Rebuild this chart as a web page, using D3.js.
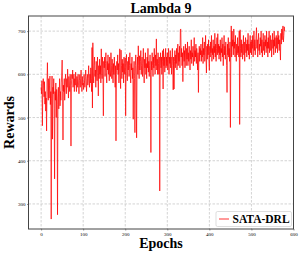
<!DOCTYPE html>
<html><head><meta charset="utf-8">
<script src="https://cdn.jsdelivr.net/npm/d3@7"></script>
<style>body{margin:0;background:#fff}svg{display:block}</style>
</head><body><svg id="c" width="300" height="255"></svg>
<script>
const title = "Lambda 9";
const xLabel = "Epochs";
const yLabel = "Rewards";
const seriesName = "SATA-DRL";
const xTicks = [0,100,200,300,400,500,600];
const yTicks = [300,400,500,600,700];
const rewards = [
570,555,585,481,560,590,575,548,583,531,560,515,545,469,580,627,560,540,590,545,
575,596,530,560,265,545,596,450,570,555,590,520,358,560,540,580,500,565,530,275,
545,570,520,555,590,527,560,540,580,600,633,560,448,575,560,590,540,570,600,580,
555,590,570,612,580,545,595,575,560,600,585,434,575,600,590,610,570,585,600,560,
590,575,605,580,560,595,570,590,600,575,555,585,600,570,590,610,580,560,595,575,
580,565,600,585,570,595,610,580,560,590,600,575,590,620,585,570,600,580,615,590,
560,662,522,673,600,580,620,640,595,610,570,630,600,585,640,605,550,620,590,635,
600,620,580,659,610,590,640,600,504,630,615,640,595,625,650,605,580,630,610,645,
600,625,585,640,610,595,650,620,590,635,605,580,625,600,640,610,570,620,446,600,
630,610,645,600,625,580,615,659,600,567,656,620,590,635,605,625,580,640,610,600,
638,504,620,646,600,585,630,610,640,595,620,650,600,580,625,610,640,590,615,496,
600,630,590,465,620,645,600,453,610,640,600,666,620,590,643,610,630,655,600,620,
640,595,625,660,610,580,635,615,650,600,625,590,640,615,660,605,630,595,620,645,
600,419,630,610,650,620,595,640,615,660,625,600,645,620,682,610,635,600,650,625,
600,640,330,620,650,615,640,600,630,655,566,659,620,640,605,635,660,615,640,620,
650,610,635,660,600,640,625,655,615,640,600,630,660,620,564,640,566,630,655,615,
645,625,660,610,640,670,620,650,630,665,615,703,705,640,660,620,650,583,640,665,
630,655,615,670,640,620,660,635,675,620,650,630,665,640,610,655,635,680,625,650,
640,665,620,650,685,630,655,640,670,625,660,640,610,650,558,640,665,630,660,645,
670,630,655,640,685,625,660,645,675,630,650,690,640,603,665,635,670,645,680,630,
609,665,640,675,650,690,630,660,645,680,635,665,650,695,640,670,630,660,685,645,
694,650,670,635,665,645,680,630,660,650,685,640,670,620,660,690,645,665,635,675,
650,620,558,670,645,685,640,660,630,675,477,650,712,640,700,665,680,645,705,660,
675,640,690,655,630,670,645,685,650,665,640,700,484,703,660,640,680,650,670,635,
665,690,645,675,630,660,685,650,670,640,680,655,695,645,670,635,665,690,650,675,
645,680,660,690,640,670,700,655,680,645,665,690,708,660,680,640,675,695,655,670,
645,685,665,700,650,680,640,670,695,655,675,645,690,665,680,650,700,660,675,640,
685,660,700,650,675,690,655,680,640,670,695,660,680,645,700,665,685,650,675,690,
660,685,650,700,670,690,655,680,660,633,695,670,705,680,700,712,675,690,710,700
];
const epochs = rewards.map((d,i)=>i);

const svg = d3.select("#c");
const L = 28.5, R = 293.5, T = 16, B = 229;
const x = d3.scaleLinear().domain([-30, 600]).range([L, R]);
const y = d3.scaleLinear().domain([242, 735]).range([B, T]);

// grid
const g = svg.append("g");
g.selectAll(".gx").data(xTicks).join("line")
  .attr("x1", d=>x(d)).attr("x2", d=>x(d)).attr("y1", T).attr("y2", B)
  .attr("stroke", "#c8c8c8").attr("stroke-width", 0.8).attr("stroke-dasharray", "2.5,1.5");
g.selectAll(".gy").data(yTicks).join("line")
  .attr("x1", L).attr("x2", R).attr("y1", d=>y(d)).attr("y2", d=>y(d))
  .attr("stroke", "#c8c8c8").attr("stroke-width", 0.8).attr("stroke-dasharray", "2.5,1.5");

// line
const line = d3.line().x((d,i)=>x(epochs[i])).y(d=>y(d));
svg.append("path").datum(rewards).attr("d", line)
  .attr("fill", "none").attr("stroke", "#ff0000").attr("stroke-opacity", 0.8)
  .attr("stroke-width", 0.9).attr("stroke-linejoin", "round");

// axes
const xAxis = d3.axisBottom(x).tickValues(xTicks).tickSize(1.5).tickPadding(1.5);
const yAxis = d3.axisLeft(y).tickValues(yTicks).tickSize(1.5).tickPadding(1.5);
const gx = svg.append("g").attr("transform", `translate(0,${B})`).call(xAxis);
const gy = svg.append("g").attr("transform", `translate(${L},0)`).call(yAxis);
[gx, gy].forEach(a => {
  a.select(".domain").remove();
  a.selectAll("text").attr("font-family", "Liberation Serif").attr("font-size", 5).attr("fill", "#000");
  a.selectAll("line").attr("stroke", "#444").attr("stroke-width", 0.6);
});
svg.append("rect").attr("x", L).attr("y", T).attr("width", R-L).attr("height", B-T)
  .attr("fill", "none").attr("stroke", "#444").attr("stroke-width", 1);

// texts
svg.append("text").attr("x", (L+R)/2).attr("y", 13).attr("text-anchor", "middle")
  .attr("font-family", "Liberation Serif").attr("font-weight", "bold").attr("font-size", 14).text(title);
svg.append("text").attr("x", (L+R)/2).attr("y", 247.5).attr("text-anchor", "middle")
  .attr("font-family", "Liberation Serif").attr("font-weight", "bold").attr("font-size", 14).text(xLabel);
svg.append("text").attr("transform", `translate(13.5,${(T+B)/2}) rotate(-90)`).attr("text-anchor", "middle")
  .attr("font-family", "Liberation Serif").attr("font-weight", "bold").attr("font-size", 14).text(yLabel);

// legend
const lg = svg.append("g");
lg.append("rect").attr("x", 216).attr("y", 211.5).attr("width", 75.5).attr("height", 15).attr("rx", 1.5)
  .attr("fill", "#fff").attr("fill-opacity", 0.85).attr("stroke", "#d0d0d0").attr("stroke-width", 0.7);
lg.append("line").attr("x1", 219).attr("x2", 229).attr("y1", 219).attr("y2", 219)
  .attr("stroke", "#ff0000").attr("stroke-opacity", 0.8).attr("stroke-width", 1);
lg.append("text").attr("x", 232.5).attr("y", 223).attr("font-family", "Liberation Serif")
  .attr("font-weight", "bold").attr("font-size", 11.5).text(seriesName);
</script></body></html>
